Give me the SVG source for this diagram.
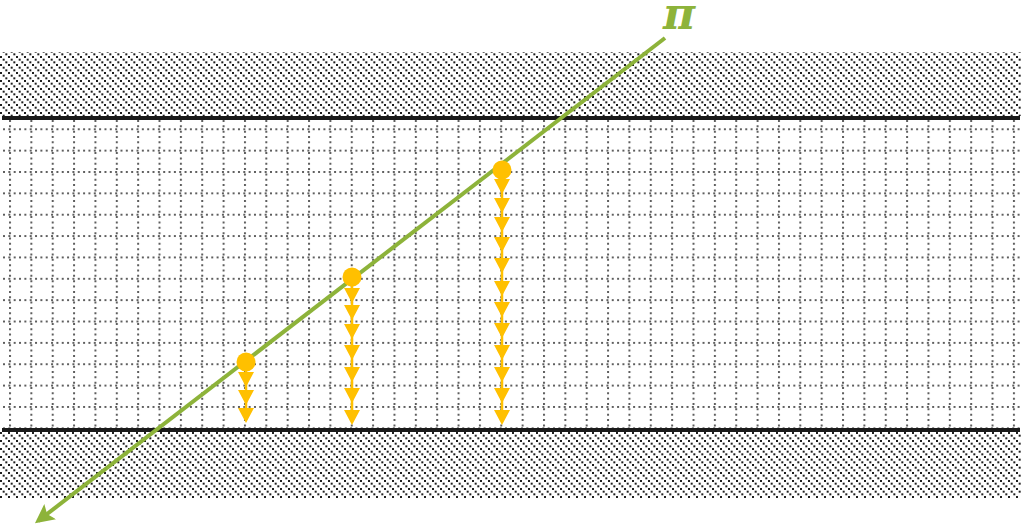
<svg xmlns="http://www.w3.org/2000/svg" width="1023" height="527" viewBox="0 0 1023 527">
<style>
.grid{stroke:#5e5e5e;stroke-width:2;stroke-dasharray:2 3.34;fill:none}
.wall{stroke:#1a1a1a;stroke-width:4}
.pi{stroke:#8db33a;stroke-width:4;fill:none}
.drop{fill:#ffc000}
.stem{stroke:#ffc000;stroke-width:2.5}
</style>
<defs>
<pattern id="hatch" patternUnits="userSpaceOnUse" width="8" height="8">
<rect x="0" y="0" width="2" height="2" fill="#1e1e1e"/>
<rect x="2.67" y="2.67" width="2" height="2" fill="#1e1e1e"/>
<rect x="5.33" y="5.33" width="2" height="2" fill="#1e1e1e"/>
</pattern>
<pattern id="hgrid" patternUnits="userSpaceOnUse" x="0" y="128.3" width="1023" height="21.36">
<line x1="3" y1="1" x2="1021" y2="1" class="grid"/>
</pattern>
<pattern id="vgrid" patternUnits="userSpaceOnUse" x="9" y="118" width="21.36" height="400">
<line x1="1" y1="2" x2="1" y2="400" class="grid"/>
</pattern>
<marker id="ah" viewBox="0 0 10 10" refX="8" refY="5" markerWidth="4.8" markerHeight="4.8" orient="auto" markerUnits="strokeWidth">
<path d="M0,0 L10,5 L0,10 L2,5 Z" fill="#8db33a"/>
</marker>
<polygon id="tri" points="-8,0 8,0 0,15"/>
</defs>
<g id="top-wall">
<rect x="0" y="52" width="1021" height="64" fill="url(#hatch)"/>
<line x1="2" y1="118" x2="1020" y2="118" class="wall"/>
</g>
<g id="grid">
<rect x="0" y="120" width="1023" height="310" fill="url(#hgrid)"/>
<rect x="0" y="120" width="1023" height="309" fill="url(#vgrid)"/>
</g>
<g id="bottom-wall">
<rect x="0" y="432" width="1021" height="66" fill="url(#hatch)"/>
<line x1="2" y1="430" x2="1020" y2="430" class="wall"/>
</g>
<g id="connectors">
<line x1="665" y1="38" x2="38" y2="521" class="pi" marker-end="url(#ah)"/>
</g>
<g id="label-pi">
<text x="663" y="29" font-family="DejaVu Serif, serif" font-weight="bold" font-style="italic" font-size="44" fill="#8db33a">π</text>
</g>
<g id="drop-1">
<line x1="246" y1="362" x2="246" y2="420" class="stem"/>
<circle cx="246" cy="362" r="9.5" class="drop"/>
<use href="#tri" x="246" y="372" class="drop"/>
<use href="#tri" x="246" y="390" class="drop"/>
<use href="#tri" x="246" y="408" class="drop"/>
</g>
<g id="drop-2">
<line x1="352" y1="277" x2="352" y2="420" class="stem"/>
<circle cx="352" cy="277" r="9.5" class="drop"/>
<use href="#tri" x="352" y="288" class="drop"/>
<use href="#tri" x="352" y="305" class="drop"/>
<use href="#tri" x="352" y="324" class="drop"/>
<use href="#tri" x="352" y="345" class="drop"/>
<use href="#tri" x="352" y="367" class="drop"/>
<use href="#tri" x="352" y="388" class="drop"/>
<use href="#tri" x="352" y="410" class="drop"/>
</g>
<g id="drop-3">
<line x1="502" y1="170" x2="502" y2="420" class="stem"/>
<circle cx="502" cy="170" r="9.5" class="drop"/>
<use href="#tri" x="502" y="179" class="drop"/>
<use href="#tri" x="502" y="198" class="drop"/>
<use href="#tri" x="502" y="217" class="drop"/>
<use href="#tri" x="502" y="237" class="drop"/>
<use href="#tri" x="502" y="258" class="drop"/>
<use href="#tri" x="502" y="281" class="drop"/>
<use href="#tri" x="502" y="302" class="drop"/>
<use href="#tri" x="502" y="323" class="drop"/>
<use href="#tri" x="502" y="345" class="drop"/>
<use href="#tri" x="502" y="367" class="drop"/>
<use href="#tri" x="502" y="388" class="drop"/>
<use href="#tri" x="502" y="410" class="drop"/>
</g>
</svg>
